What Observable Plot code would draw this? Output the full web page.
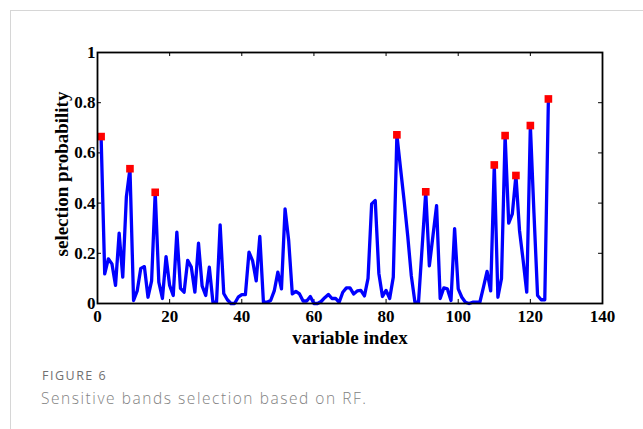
<!DOCTYPE html>
<html>
<head>
<meta charset="utf-8">
<script src="https://cdn.jsdelivr.net/npm/d3@7"></script>
<script src="https://cdn.jsdelivr.net/npm/@observablehq/plot@0.6"></script>
<style>
  html, body { margin: 0; padding: 0; background: #fff; }
  #card { position: relative; width: 643px; height: 429px; overflow: hidden; }
  #borderL { position: absolute; left: 10px; top: 10px; width: 1px; height: 419px; background: #d6d6d6; }
  #borderT { position: absolute; left: 10px; top: 10px; width: 633px; height: 1px; background: #d6d6d6; }
  #chart { position: absolute; left: 0; top: 0; }
  #fig { position: absolute; left: 42px; top: 367px; font: 500 12.5px "Open Sans", sans-serif; letter-spacing: 1.5px; color: #707070; }
  #cap { position: absolute; left: 41px; top: 387px; font: 300 15.5px "Open Sans", sans-serif; letter-spacing: 1.55px; color: #828282; }
</style>
</head>
<body>
<div id="card">
  <div id="borderL"></div>
  <div id="borderT"></div>
  <div id="chart"></div>
  <div id="fig">FIGURE 6</div>
  <div id="cap">Sensitive bands selection based on RF.</div>
</div>
<script>
// variable indices 1..125
const startIndex = 1;
const probability = [
  0.665, 0.118, 0.178, 0.158, 0.072, 0.28, 0.105, 0.424, 0.537, 0.012,
  0.05, 0.14, 0.147, 0.025, 0.09, 0.443, 0.085, 0.02, 0.187, 0.072,
  0.032, 0.284, 0.06, 0.045, 0.172, 0.145, 0.045, 0.24, 0.07, 0.032,
  0.145, 0.005, 0.005, 0.313, 0.04, 0.015, 0.0, 0.0, 0.025, 0.035,
  0.035, 0.205, 0.17, 0.09, 0.267, 0.005, 0.005, 0.012, 0.05, 0.125,
  0.058, 0.377, 0.251, 0.038, 0.048, 0.038, 0.01, 0.01, 0.028, 0.0,
  0.0, 0.008, 0.023, 0.036, 0.02, 0.02, 0.005, 0.045, 0.062, 0.062,
  0.038, 0.05, 0.052, 0.03, 0.1, 0.397, 0.41, 0.12, 0.028, 0.052,
  0.02, 0.105, 0.672, 0.54, 0.41, 0.27, 0.11, 0.005, 0.005, 0.225,
  0.445, 0.15, 0.27, 0.39, 0.02, 0.062, 0.058, 0.012, 0.298, 0.058,
  0.025, 0.005, 0.0, 0.005, 0.005, 0.005, 0.065, 0.128, 0.05, 0.552,
  0.025, 0.1, 0.669, 0.32, 0.357, 0.51, 0.29, 0.172, 0.045, 0.709,
  0.36, 0.032, 0.015, 0.015, 0.815
];
const selected = [1, 9, 16, 83, 91, 110, 113, 116, 120, 125];
const xTicks = [0, 20, 40, 60, 80, 100, 120, 140];
const yTicks = [0, 0.2, 0.4, 0.6, 0.8, 1];
const yTickLabels = ["0", "0.2", "0.4", "0.6", "0.8", "1"];
const xLabel = "variable index";
const yLabel = "selection probability";

const series = probability.map((p, i) => ({index: i + startIndex, p}));
const marks = selected.map(k => ({index: k, p: probability[k - startIndex]}));

const serif = "'Liberation Serif', 'Times New Roman', serif";

const plot = Plot.plot({
  width: 643,
  height: 350,
  marginLeft: 97,
  marginRight: 41,
  marginTop: 52,
  marginBottom: 47,
  style: {fontFamily: serif, fontSize: "17px", fontWeight: "bold", color: "#000", background: "transparent"},
  x: {domain: [0, 140]},
  y: {domain: [0, 1]},
  marks: [
    Plot.axisX(xTicks, {tickSize: 0, tickPadding: 6, label: null, fontSize: 17, fontWeight: "bold", fontFamily: serif}),
    Plot.axisY(yTicks, {tickSize: 0, tickPadding: 2, label: null, tickFormat: d => yTickLabels[yTicks.indexOf(d)], fontSize: 17, fontWeight: "bold", fontFamily: serif}),
    // inward ticks on all four sides
    Plot.ruleX(xTicks, {x: d => d, y1: 0, y2: 0.016, stroke: "black", strokeWidth: 1}),
    Plot.ruleX(xTicks, {x: d => d, y1: 1, y2: 0.984, stroke: "black", strokeWidth: 1}),
    Plot.ruleY(yTicks, {y: d => d, x1: 0, x2: 1.1, stroke: "black", strokeWidth: 1}),
    Plot.ruleY(yTicks, {y: d => d, x1: 140, x2: 138.9, stroke: "black", strokeWidth: 1}),
    Plot.line(series, {x: "index", y: "p", stroke: "#0000ff", strokeWidth: 3.3}),
    Plot.dot(marks, {x: "index", y: "p", symbol: "square", r: 4.3, fill: "#ff0000", stroke: "none"}),
    Plot.frame({stroke: "black", strokeWidth: 1.8}),
    Plot.text([xLabel], {frameAnchor: "bottom", text: d => d, lineAnchor: "middle", textAnchor: "middle", dy: 34, fontSize: 19, fontWeight: "bold", fontFamily: serif, fill: "black"}),
    Plot.text([yLabel], {frameAnchor: "left", text: d => d, rotate: -90, textAnchor: "middle", lineAnchor: "middle", dx: -36, dy: -4, fontSize: 19, fontWeight: "bold", fontFamily: serif, fill: "black"})
  ]
});
document.getElementById("chart").appendChild(plot);
</script>
</body>
</html>
